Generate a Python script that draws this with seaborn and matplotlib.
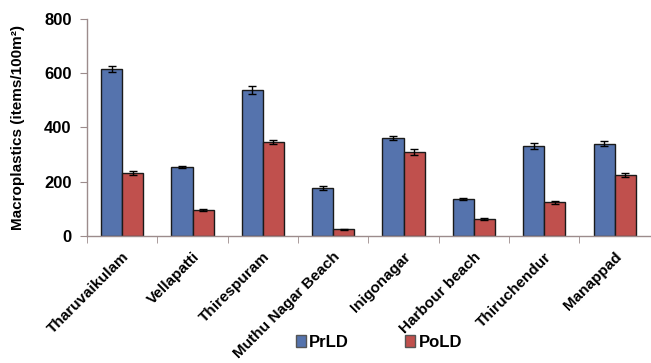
import matplotlib
matplotlib.use("Agg")
import matplotlib.pyplot as plt
import seaborn as sns
import pandas as pd
import numpy as np
from matplotlib.patches import Patch

sites = ["Tharuvaikulam", "Vellapatti", "Thirespuram", "Muthu Nagar Beach",
         "Inigonagar", "Harbour beach", "Thiruchendur", "Manappad"]
prld = [616, 254, 538, 177, 361, 137, 332, 340]
prld_err = [10, 5, 15, 7, 6, 3, 12, 10]
pold = [232, 96, 347, 25, 310, 63, 124, 225]
pold_err = [8, 3, 7, 2, 10, 3, 6, 7]
seasons = ["PrLD", "PoLD"]

df = pd.DataFrame({
    "site": sites * 2,
    "season": ["PrLD"] * len(sites) + ["PoLD"] * len(sites),
    "value": prld + pold,
})
errs = {"PrLD": prld_err, "PoLD": pold_err}

sns.set_style("white")
plt.rcParams["font.family"] = ["Liberation Sans", "DejaVu Sans"]
plt.rcParams["font.weight"] = "bold"
plt.rcParams["text.color"] = "black"
plt.rcParams["axes.labelcolor"] = "black"

fig = plt.figure(figsize=(6.51, 3.63), dpi=100)
ax = fig.add_axes([0.1336, 0.35, 0.87, 0.598])

palette = {"PrLD": "#5573AD", "PoLD": "#C0504D"}
sns.barplot(data=df, x="site", y="value", hue="season", hue_order=seasons,
            palette=palette, width=0.6, gap=0, edgecolor="#1a1a1a",
            linewidth=1.0, errorbar=None, saturation=1, ax=ax, legend=False)

for cont, s in zip(ax.containers, seasons):
    xs = [b.get_x() + b.get_width() / 2 for b in cont]
    hs = [b.get_height() for b in cont]
    ax.errorbar(xs, hs, yerr=errs[s], fmt="none", ecolor="black",
                elinewidth=1.0, capsize=3, capthick=1.0)

ax.set_ylim(0, 800)
ax.set_yticks([0, 200, 400, 600, 800])
ax.set_xlim(-0.5, len(sites) - 0.45)
ax.set_xlabel("")
ax.set_ylabel("Macroplastics (items/100m²)", fontsize=11,
              fontweight="bold", labelpad=14)

for sp in ["top", "right"]:
    ax.spines[sp].set_visible(False)
for sp in ["left", "bottom"]:
    ax.spines[sp].set_color("#9C8C8C")
    ax.spines[sp].set_linewidth(1.0)

ax.set_xticks(np.arange(len(sites)))
ax.set_xticklabels(sites, rotation=45, ha="right", rotation_mode="anchor",
                   fontsize=11, fontweight="bold")
ax.tick_params(axis="x", which="major", length=0, pad=10, labelcolor="black")
ax.set_xticks(np.arange(len(sites)) - 0.5, minor=True)
ax.tick_params(axis="x", which="minor", length=5, direction="out",
               color="#9C8C8C", bottom=True)
ax.tick_params(axis="y", length=5, direction="out", color="#9C8C8C",
               labelsize=12, left=True, pad=6, labelcolor="black")
for t in ax.get_yticklabels():
    t.set_fontweight("bold")

handles = [Patch(facecolor=palette[s], edgecolor="#555555", label=s)
           for s in seasons]
fig.legend(handles=handles, loc="lower center", bbox_to_anchor=(0.582, -0.005),
           ncol=2, frameon=False, handlelength=0.6,
           handleheight=0.7, handletextpad=0.2, columnspacing=3.4,
           prop={"weight": "bold", "size": 12})

fig.savefig("out.png", dpi=100)
